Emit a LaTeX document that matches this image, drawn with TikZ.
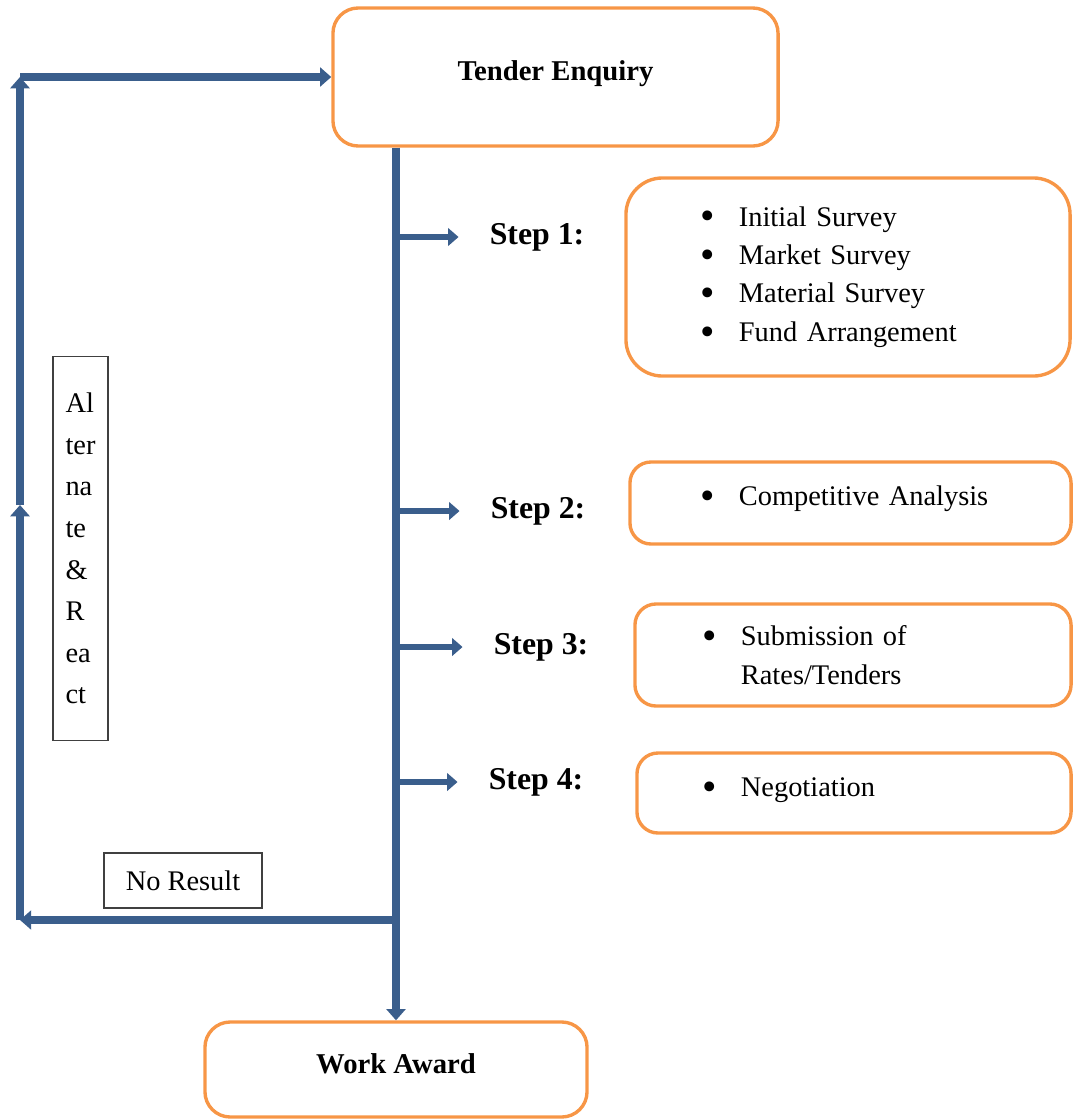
\documentclass[tikz,border=0pt]{standalone}
\usepackage{fontspec}
\usepackage{graphicx}
\setmainfont{Liberation Serif}
\usetikzlibrary{arrows.meta,positioning}
\definecolor{flowblue}{RGB}{58,94,140}
\definecolor{boxorange}{RGB}{247,150,70}
\newcommand{\bitem}{\makebox[27pt][l]{\raisebox{-2.6pt}{\scalebox{1.45}{\textbullet}}}}

\begin{document}
\begin{tikzpicture}[x=0.025cm,y=-0.025cm,
    stagebox/.style={rounded corners=18pt,draw=boxorange,line width=2.4pt,align=center,font=\fontsize{20.4}{24}\selectfont\bfseries},
    itembox/.style={rounded corners=15pt,draw=boxorange,line width=2.4pt,align=left,font=\fontsize{20.2}{27.3}\selectfont},
    note/.style={draw=black!75,line width=1pt,align=left,font=\fontsize{20.2}{29.6}\selectfont},
    steplbl/.style={inner sep=0pt,font=\fontsize{22.6}{26}\selectfont\bfseries},
    trunk/.style={-{Triangle[length=8pt,width=13.5pt]},line width=6.3pt,draw=flowblue},
    branch/.style={-{Triangle[length=7.5pt,width=12.5pt]},line width=3.6pt,draw=flowblue,shorten >=22pt}]
   \useasboundingbox (0,0) rectangle (1073,1119);
   \node[stagebox,text depth=8.7pt,minimum width=11.125cm,minimum height=3.45cm] (tender) at (555.5,77) {Tender Enquiry};
   \node[stagebox,text depth=8.5pt,minimum width=9.55cm,minimum height=2.375cm] (award) at (396,1069.5) {Work Award};
   % steps along the trunk
   \node[steplbl] (s1) at (537,237) {Step 1:};
   \node[steplbl] (s2) at (538,511) {Step 2:};
   \node[steplbl] (s3) at (541,647) {Step 3:};
   \node[steplbl] (s4) at (536,782) {Step 4:};
   \node[itembox,rounded corners=26pt,inner xsep=1.875cm,text width=7.35cm,minimum height=4.95cm] (b1) at (848,277)
     {\bitem Initial Survey\\\bitem Market Survey\\\bitem Material Survey\\\bitem Fund Arrangement};
   \node[itembox,text depth=10pt,inner xsep=1.775cm,text width=7.475cm,minimum height=2.05cm] (b2) at (850.5,503) {\bitem Competitive Analysis};
   \node[itembox,inner xsep=1.7cm,text width=7.5cm,minimum height=2.55cm] (b3) at (853,655)
     {\bitem Submission of\\\hspace*{27pt}Rates/Tenders};
   \node[itembox,text depth=8pt,inner xsep=1.65cm,text width=7.55cm,minimum height=2.0cm] (b4) at (854,793) {\bitem Negotiation};
   % loop back
   \node[note,minimum width=1.375cm,minimum height=9.6cm] (alt) at (80.5,548.5) {Al\\ter\\na\\te\\\&\\R\\ea\\ct};
   \node[note,align=center,minimum width=3.95cm,minimum height=1.375cm] (nores) at (183,880.5) {No Result};
   \coordinate (turn) at (395,920);
   \coordinate (corner) at (20,920);
   \coordinate (mid) at (20,505);
   \coordinate (top) at (20,77);
   \draw[trunk] (award.north |- tender.south) -- (award.north);
   \foreach \s in {s1,s2,s3,s4}
     \draw[branch] (award.north |- \s.west) -- (\s.west);
   \draw[trunk] (turn) -- (corner);
   \draw[trunk] (corner) -- (mid);
   \draw[trunk] (mid) -- (top);
   \draw[trunk] (top) -- (tender.west);
\end{tikzpicture}
\end{document}
